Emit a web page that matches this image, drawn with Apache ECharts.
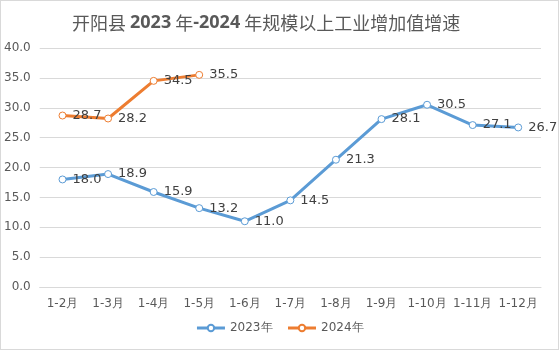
<!DOCTYPE html>
<html>
<head>
<meta charset="utf-8">
<script src="https://cdn.jsdelivr.net/npm/echarts@6/dist/echarts.min.js"></script>
<style>
html,body{margin:0;padding:0;background:#fff;}
#chart{width:557px;height:348px;border:1px solid #d9d9d9;}
</style>
</head>
<body>
<div id="chart"></div>
<script>
// 月份
var months = ['1-2月','1-3月','1-4月','1-5月','1-6月','1-7月','1-8月','1-9月','1-10月','1-11月','1-12月'];
// 增速数据
var rate2023 = [18.0, 18.9, 15.9, 13.2, 11.0, 14.5, 21.3, 28.1, 30.5, 27.1, 26.7];
var rate2024 = [28.7, 28.2, 34.5, 35.5];

function makeSeries(name, data, color){
	return {
		name: name,
		type: 'line',
		data: data,
		symbol: 'circle',
		symbolSize: 7,
		itemStyle: {color: '#fff', borderColor: color, borderWidth: 1},
		lineStyle: {color: color, width: 3},
		label: {
			show: true,
			position: 'right',
			distance: 6,
			color: '#404040',
			fontSize: 13,
			fontFamily: 'DejaVu Sans',
			formatter: function(p){ return p.value.toFixed(1); }
		},
		animation: false
	};
}

var myChart = echarts.init(document.getElementById('chart'));
myChart.setOption({
	title: {
		text: '开阳县 {b|2023} 年{b|-2024} 年规模以上工业增加值增速',
		left: 66,
		top: 8,
		textStyle: {
			color: '#595959', fontSize: 18, fontWeight: 'normal', fontFamily: 'Noto Sans CJK SC',
			rich: {b: {fontSize: 18, fontWeight: 'bold', color: '#595959', fontFamily: 'Open Sans'}}
		}
	},
	legend: {
		bottom: 10,
		itemWidth: 28,
		itemHeight: 8,
		itemGap: 14,
		lineStyle: {width: 3},
		textStyle: {color: '#595959', fontSize: 12, fontFamily: 'DejaVu Sans'},
		data: ['2023年', '2024年']
	},
	grid: {left: 38, right: 17, top: 47, bottom: 62},
	xAxis: {
		type: 'category',
		data: months,
		boundaryGap: true,
		axisLine: {show: true, lineStyle: {color: '#d9d9d9'}},
		axisTick: {show: false},
		axisLabel: {color: '#595959', fontSize: 12, margin: 11, interval: 0, fontFamily: 'DejaVu Sans'}
	},
	yAxis: {
		type: 'value',
		min: 0,
		max: 40,
		interval: 5,
		axisLine: {show: false},
		axisTick: {show: false},
		splitLine: {lineStyle: {color: '#d9d9d9'}},
		axisLabel: {color: '#595959', fontSize: 12, margin: 9, fontFamily: 'DejaVu Sans', formatter: function(v){ return v.toFixed(1); }}
	},
	series: [
		makeSeries('2023年', rate2023, '#5B9BD5'),
		makeSeries('2024年', rate2024, '#ED7D31')
	]
});
</script>
</body>
</html>
